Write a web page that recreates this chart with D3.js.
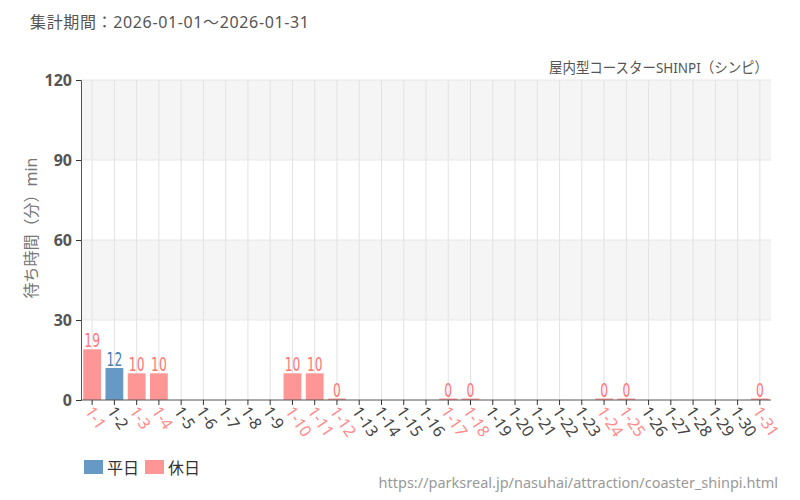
<!DOCTYPE html>
<html><head><meta charset="utf-8">
<script src="https://cdn.jsdelivr.net/npm/d3@7"></script>
<style>
body{margin:0;background:#fff;font-family:"Noto Sans","Noto Sans CJK JP",sans-serif;}
</style></head><body>
<svg id="c" width="800" height="500"></svg>
<script>
const days = d3.range(1,32).map(d=>"1-"+d);
const values = [19,12,10,10,null,null,null,null,null,10,10,0,null,null,null,null,0,0,null,null,null,null,null,0,0,null,null,null,null,null,0];
const holidays = ["1-1","1-3","1-4","1-10","1-11","1-12","1-17","1-18","1-24","1-25","1-31"];
const yTicks = [0,30,60,90,120];
const legendItems = [{label:"平日",color:"#6699c4"},{label:"休日",color:"#ff9696"}];

const FONT = "'Noto Sans','Noto Sans CJK JP',sans-serif";
const svg = d3.select("#c").attr("font-family",FONT);
const m = {l:81,r:771,t:80,b:400};
const x = d3.scaleBand().domain(days).range([m.l,m.r]).paddingInner(0.2).paddingOuter(0.1);
const y = d3.scaleLinear().domain([0,120]).range([m.b,m.t]);

// background bands
for(let i=0;i<yTicks.length-1;i++){
  svg.append("rect").attr("x",m.l).attr("width",m.r-m.l)
    .attr("y",y(yTicks[i+1])).attr("height",y(yTicks[i])-y(yTicks[i+1]))
    .attr("fill", i%2===1 ? "#f5f5f5" : "#ffffff");
}
// grid
svg.append("g").selectAll("line").data(days).join("line")
  .attr("x1",d=>x(d)+x.bandwidth()/2).attr("x2",d=>x(d)+x.bandwidth()/2)
  .attr("y1",m.t).attr("y2",m.b).attr("stroke","#e2e2e2");
svg.append("g").selectAll("line").data(yTicks.slice(1)).join("line")
  .attr("x1",m.l).attr("x2",m.r).attr("y1",d=>y(d)).attr("y2",d=>y(d)).attr("stroke","#e6e6e6");

const isHol = d=>holidays.includes(d);
const data = days.map((d,i)=>({d,v:values[i]})).filter(o=>o.v!==null);
svg.append("g").selectAll("rect").data(data).join("rect")
  .attr("x",o=>x(o.d)).attr("width",x.bandwidth())
  .attr("y",o=>Math.min(y(o.v), m.b-1.5)).attr("height",o=>Math.max(m.b-y(o.v),1.5))
  .attr("fill",o=>isHol(o.d)?"#ff9696":"#6699c4");
svg.append("g").selectAll("text").data(data).join("text")
  .attr("x",o=>x(o.d)+x.bandwidth()/2).attr("y",o=>Math.min(y(o.v),m.b-1.5)-2)
  .attr("text-anchor","middle").attr("font-size",19)
  .attr("font-family","'DejaVu Sans Condensed','Liberation Sans Narrow',sans-serif")
  .attr("font-stretch","condensed")
  .attr("textLength",o=>String(o.v).length*7.8).attr("lengthAdjust","spacingAndGlyphs")
  .attr("fill",o=>isHol(o.d)?"#ff7676":"#4a80b4").text(o=>o.v);

// axes
const ya = svg.append("g").attr("transform",`translate(${m.l},0)`)
  .call(d3.axisLeft(y).tickValues(yTicks).tickSize(5).tickPadding(4));
ya.select(".domain").attr("stroke","#555");
ya.selectAll(".tick line").attr("stroke","#333");
ya.selectAll(".tick text").attr("font-size",16).attr("font-weight","bold").attr("fill","#555")
  .attr("font-family",FONT);

const xa = svg.append("g").attr("transform",`translate(0,${m.b})`)
  .call(d3.axisBottom(x).tickSize(5).tickSizeOuter(0));
xa.select(".domain").attr("stroke","#555").attr("d",`M${m.l},0H${m.r}`);
xa.selectAll(".tick line").attr("stroke","#333");
xa.selectAll(".tick text").attr("font-size",16).attr("font-family",FONT)
  .attr("fill",d=>isHol(d)?"#ff8a8a":"#444")
  .attr("text-anchor","start").attr("dy","0.35em")
  .attr("transform","translate(-3,8) rotate(56)")
  .attr("y",0).attr("x",0);

// titles
svg.append("text").attr("x",30).attr("y",28).attr("font-size",16).attr("fill","#555")
  .attr("textLength",279).attr("lengthAdjust","spacing").text("集計期間：2026-01-01～2026-01-31");
svg.append("text").attr("x",768).attr("y",73).attr("text-anchor","end").attr("font-size",14.5).attr("fill","#555")
  .attr("textLength",219).attr("lengthAdjust","spacingAndGlyphs").text("屋内型コースターSHINPI（シンピ）");
svg.append("text").attr("transform","translate(37,228) rotate(-90)").attr("text-anchor","middle")
  .attr("font-size",16).attr("fill","#777").text("待ち時間（分）min");

// legend
const lg = svg.append("g").selectAll("g").data(legendItems).join("g")
  .attr("transform",(d,i)=>`translate(84,460) translate(${i*61},0)`);
lg.append("rect").attr("width",19).attr("height",14).attr("fill",d=>d.color);
lg.append("text").attr("x",23).attr("y",13.5).attr("font-size",16).attr("fill","#333").text(d=>d.label);

svg.append("text").attr("x",778).attr("y",488).attr("text-anchor","end").attr("font-size",14.5).attr("fill","#999")
  .text("https://parksreal.jp/nasuhai/attraction/coaster_shinpi.html");
</script></body></html>
